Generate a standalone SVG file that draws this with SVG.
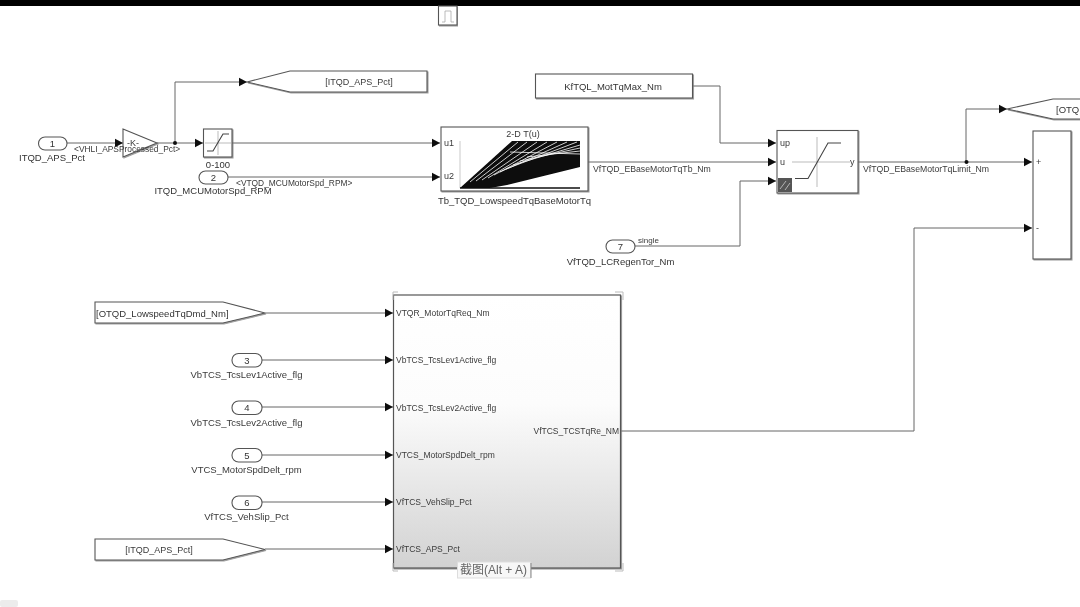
<svg xmlns="http://www.w3.org/2000/svg" width="1080" height="607" viewBox="0 0 1080 607">
<style>
text{font-family:"Liberation Sans",Arial,"Noto Sans CJK SC",sans-serif;font-size:9px;fill:#3a3a3a}
.m{text-anchor:middle}
.e{text-anchor:end}
.n{font-size:9.5px;fill:#333}
.l{font-size:9.500px}
.p{font-size:8.500px}
.b{fill:#fff;stroke:#555;stroke-width:1.1}
.s{filter:url(#sh)}
.c{fill:none;stroke:#666;stroke-width:1}
.g{fill:none;stroke:#aaa;stroke-width:.8}
.k{fill:none;stroke:#444;stroke-width:1.1}
</style>
<defs>
<marker id="a" markerUnits="userSpaceOnUse" markerWidth="10" markerHeight="10" refX="8.500" refY="5" orient="auto"><path d="M0,0.500L8.500,5L0,9.500Z" fill="#111"/></marker>
<linearGradient id="gr" x1="0" y1="0" x2="0" y2="1"><stop offset="0" stop-color="#fff"/><stop offset=".4" stop-color="#fcfcfc"/><stop offset="1" stop-color="#d2d2d2"/></linearGradient>
<filter id="sh" x="-5%" y="-5%" width="110%" height="115%"><feDropShadow dx="1" dy="1" stdDeviation=".6" flood-color="#777" flood-opacity=".7"/></filter>
<filter id="bl" x="0" y="0" width="100%" height="100%"><feGaussianBlur stdDeviation=".45"/></filter>
</defs>
<rect width="1080" height="607" fill="#fff"/>
<g filter="url(#bl)">
<rect x="0" y="0" width="1080" height="6" fill="#000"/>
<g id="connectors">
<path class="c" marker-end="url(#a)" d="M67,143H123"/>
<path class="c" marker-end="url(#a)" d="M157,143H203"/>
<path class="c" marker-end="url(#a)" d="M175,143V82H247"/>
<path class="c" marker-end="url(#a)" d="M232,143H440"/>
<path class="c" marker-end="url(#a)" d="M228,177H440"/>
<path class="c" marker-end="url(#a)" d="M588,162H776"/>
<path class="c" marker-end="url(#a)" d="M692,86H720V143H776"/>
<path class="c" marker-end="url(#a)" d="M635,246H740V181H776"/>
<path class="c" marker-end="url(#a)" d="M858,162H1032"/>
<path class="c" marker-end="url(#a)" d="M966,162V109H1007"/>
<path class="c" marker-end="url(#a)" d="M621,431H914V228H1032"/>
<path class="c" marker-end="url(#a)" d="M265,313H393"/>
<path class="c" marker-end="url(#a)" d="M262,360H393"/>
<path class="c" marker-end="url(#a)" d="M262,407H393"/>
<path class="c" marker-end="url(#a)" d="M262,455H393"/>
<path class="c" marker-end="url(#a)" d="M262,502H393"/>
<path class="c" marker-end="url(#a)" d="M265,549H393"/>
<circle cx="175" cy="143" r="2" fill="#111"/>
<circle cx="966.500" cy="162" r="2" fill="#111"/>
<text x="236" y="186" style="font-size:8.400px">&lt;VTQD_MCUMotorSpd_RPM&gt;</text>
<text x="593" y="172" style="font-size:8.700px">VfTQD_EBaseMotorTqTb_Nm</text>
<text x="863" y="172" style="font-size:8.700px">VfTQD_EBaseMotorTqLimit_Nm</text>
<text x="638" y="243" style="font-size:8px">single</text>
</g>
<g id="pulse"><rect class="b s" x="438.500" y="6" width="18.500" height="19"/><path class="g" d="M442,22H445V11H451V22H454"/></g>
<g id="in1"><rect class="b" x="38.500" y="137" width="28.500" height="13" rx="6.500"/><text class="m n" x="52.500" y="147">1</text><text class="m n" x="52" y="160.500">ITQD_APS_Pct</text></g>
<g id="gain"><path class="b s" d="M123,129L157,143L123,157Z"/><text class="m" x="133" y="146">-K-</text></g>
<text id="gain-signal" x="74" y="152" style="font-size:8.400px">&lt;VHLI_APSProcessed_Pct&gt;</text>
<g id="sat1"><rect class="b s" x="203.500" y="129" width="28.500" height="28"/><path class="g" d="M205,143H231M218,131V155"/><path class="k" d="M207,151H213L223,134H229"/><text class="m n" x="218" y="168">0-100</text></g>
<g id="goto1"><path class="b s" d="M247,82L290,71H427V92H290Z"/><text class="m" x="359" y="84.500">[ITQD_APS_Pct]</text></g>
<g id="in2"><rect class="b" x="199" y="171" width="29" height="13" rx="6.500"/><text class="m n" x="213.500" y="180.500">2</text><text class="m n" x="213" y="193.500">ITQD_MCUMotorSpd_RPM</text></g>
<g id="lookup">
<rect class="b s" x="441" y="127" width="147" height="64"/>
<text class="m" x="523" y="136.500">2-D T(u)</text>
<text x="444" y="146">u1</text><text x="444" y="179">u2</text>
<path d="M460,141V188" stroke="#bbb" stroke-width=".8" fill="none"/>
<path d="M460,188L512,141H580V167L507,185L490,188Z" fill="#0a0a0a"/>
<g stroke="#fff" stroke-width=".8" fill="none">
<path d="M470,182L518,142"/><path d="M476,181L527,142"/><path d="M482,180L537,142"/><path d="M488,178L547,142"/><path d="M494,175L557,142"/><path d="M500,172L567,142"/><path d="M506,169L577,142"/><path d="M513,165L580,145"/><path d="M520,161L580,148"/><path d="M527,157L580,151"/><path d="M510,152L580,154"/>
</g>
<path d="M460,188H580" stroke="#111" stroke-width="1.500"/>
<text class="m n" x="514.500" y="204">Tb_TQD_LowspeedTqBaseMotorTq</text>
</g>
<g id="const"><rect class="b s" x="535.500" y="74" width="157" height="24"/><text class="m n" x="613" y="89.500">KfTQL_MotTqMax_Nm</text></g>
<g id="satdyn">
<rect class="b s" x="777" y="130.500" width="81" height="62.500"/>
<path class="g" d="M792,162H850M817,137V187"/>
<path class="k" d="M795,178.500H808L828,143H841"/>
<text x="780" y="146">up</text><text x="780" y="165">u</text><text x="850" y="165">y</text>
<rect x="778" y="178" width="14" height="14" fill="#555"/><path d="M780,189L786,181M785,190L790,183" stroke="#ccc" stroke-width=".8"/>
</g>
<g id="in7"><rect class="b" x="606" y="240" width="29" height="13" rx="6.500"/><text class="m n" x="620.500" y="250">7</text><text class="m n" x="620.500" y="265">VfTQD_LCRegenTor_Nm</text></g>
<g id="goto2"><path class="b s" d="M1007,109L1053,99H1090V119H1053Z"/><text x="1056" y="113" class="n">[OTQD</text></g>
<g id="sum"><rect class="b s" x="1033" y="131" width="38" height="128"/><text x="1036" y="165">+</text><text x="1036" y="231">-</text></g>
<g id="goto3"><path class="b s" d="M95,302H223L265,313L223,323H95Z"/><text x="96" y="316.500" class="n">[OTQD_LowspeedTqDmd_Nm]</text></g>
<g id="in3"><rect class="b" x="232" y="353.500" width="30" height="13.500" rx="6.500"/><text class="m n" x="247" y="363.500">3</text><text class="m l" x="246.500" y="378">VbTCS_TcsLev1Active_flg</text></g>
<g id="in4"><rect class="b" x="232" y="401" width="30" height="13.500" rx="6.500"/><text class="m n" x="247" y="411">4</text><text class="m l" x="246.500" y="425.500">VbTCS_TcsLev2Active_flg</text></g>
<g id="in5"><rect class="b" x="232" y="448.500" width="30" height="13.500" rx="6.500"/><text class="m n" x="247" y="458.500">5</text><text class="m l" x="246.500" y="473">VTCS_MotorSpdDelt_rpm</text></g>
<g id="in6"><rect class="b" x="232" y="496" width="30" height="13.500" rx="6.500"/><text class="m n" x="247" y="506">6</text><text class="m l" x="246.500" y="520">VfTCS_VehSlip_Pct</text></g>
<g id="goto4"><path class="b s" d="M95,539H223L265,549.500L223,560H95Z"/><text class="m" x="159" y="553">[ITQD_APS_Pct]</text></g>
<g id="subsystem">
<rect x="393.500" y="295" width="227" height="273" fill="url(#gr)" stroke="#555" stroke-width="1.200" class="s"/>
<path d="M393,300V292H398M615,292H623V300M393,563V571H398M615,571H623V563" fill="none" stroke="#bbb" stroke-width="1"/>
<text class="p" x="396" y="316">VTQR_MotorTqReq_Nm</text>
<text class="p" x="396" y="363">VbTCS_TcsLev1Active_flg</text>
<text class="p" x="396" y="411">VbTCS_TcsLev2Active_flg</text>
<text class="p" x="396" y="458">VTCS_MotorSpdDelt_rpm</text>
<text class="p" x="396" y="505">VfTCS_VehSlip_Pct</text>
<text class="p" x="396" y="552">VfTCS_APS_Pct</text>
<text class="e p" x="619" y="434">VfTCS_TCSTqRe_NM</text>
</g>
<g id="tooltip"><rect x="457.500" y="562" width="73" height="16" fill="#f7f7f7" stroke="#ddd" stroke-width="1"/><path d="M531,563V578" stroke="#888"/><text x="460" y="574" style="font-size:12px;fill:#666">截图(Alt + A)</text></g>
<rect x="0" y="600" width="18" height="7" rx="2" fill="#ececec"/>
</g>
</svg>
